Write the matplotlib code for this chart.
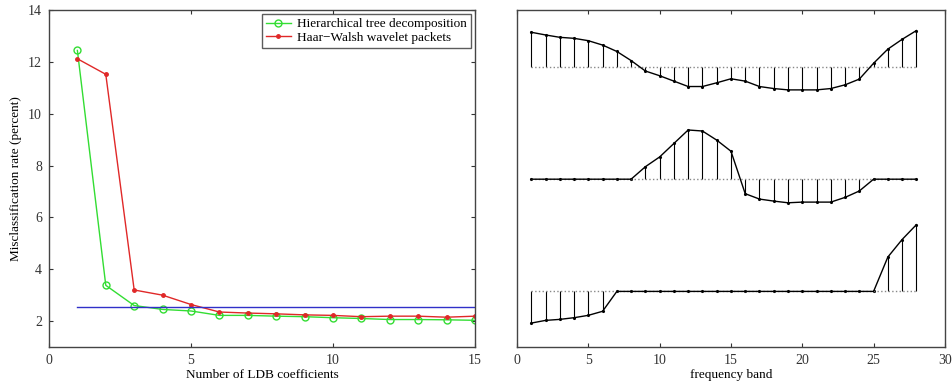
import matplotlib
matplotlib.use("Agg")
import matplotlib.pyplot as plt
import numpy as np

plt.rcParams['font.family'] = ['Liberation Serif', 'DejaVu Serif']

# Misclassification rate vs. number of LDB coefficients
n_coeffs = np.arange(1, 16)
tree_rate = [12.44, 3.38, 2.60, 2.45, 2.39, 2.22, 2.22, 2.19, 2.17, 2.13,
             2.10, 2.06, 2.06, 2.05, 2.03]
haar_rate = [12.12, 11.52, 3.20, 3.00, 2.64, 2.35, 2.31, 2.28, 2.24, 2.22,
             2.17, 2.19, 2.19, 2.15, 2.19]
reference_rate = 2.55

# Discriminant weights per frequency band (three vectors, stacked)
bands = np.arange(1, 29)
vec_top = [1.02, 0.94, 0.87, 0.84, 0.77, 0.64, 0.45, 0.18, -0.13, -0.27,
           -0.43, -0.59, -0.59, -0.48, -0.36, -0.43, -0.59, -0.65, -0.69, -0.69,
           -0.69, -0.65, -0.54, -0.37, 0.10, 0.52, 0.81, 1.07]
vec_mid = [0, 0, 0, 0, 0, 0, 0, 0, 0.37, 0.66,
           1.06, 1.46, 1.43, 1.16, 0.83, -0.43, -0.59, -0.65, -0.70, -0.68,
           -0.68, -0.68, -0.54, -0.35, 0, 0, 0, 0]
vec_bot = [-0.94, -0.86, -0.83, -0.78, -0.71, -0.59, 0, 0, 0, 0,
           0, 0, 0, 0, 0, 0, 0, 0, 0, 0,
           0, 0, 0, 0, 0, 1.02, 1.54, 1.98]
offsets = [8.32, 4.98, 1.65]

fig = plt.figure(figsize=(9.53, 3.81), dpi=100)

# ---- left panel ----
ax1 = fig.add_axes([0.0514, 0.0892, 0.447, 0.8845])
ax1.plot(n_coeffs, tree_rate, '-o', color='#33dd33', lw=1.0, ms=5,
         mfc='none', mew=1.0, label='Hierarchical tree decomposition')
ax1.plot(n_coeffs, haar_rate, '-', color='#e02828', lw=1.0, marker='.',
         ms=5, label='Haar\u2212Walsh wavelet packets')
ax1.plot([n_coeffs[0], n_coeffs[-1]], [reference_rate, reference_rate],
         '-', color='#3030c8', lw=1.0)
ax1.set_xlim(0, 15)
ax1.set_ylim(1, 14)
ax1.set_xticks([0, 5, 10, 15])
ax1.set_yticks([2, 4, 6, 8, 10, 12, 14])
ax1.set_xlabel('Number of LDB coefficients', fontsize=9.5, labelpad=1.5)
ax1.set_ylabel('Misclassification rate (percent)', fontsize=9.5, labelpad=4)
leg = ax1.legend(loc='upper right', fontsize=9.5, frameon=True, fancybox=False,
                 borderpad=0.3, labelspacing=0.1, handlelength=1.9,
                 handletextpad=0.5, borderaxespad=0.3)
leg.get_frame().set_edgecolor('#333333')
leg.get_frame().set_linewidth(1.0)

# ---- right panel ----
ax2 = fig.add_axes([0.5425, 0.0892, 0.449, 0.8845])
for vec, base in zip([vec_top, vec_mid, vec_bot], offsets):
    vals = base + np.asarray(vec)
    ml, sl, bl = ax2.stem(bands, vals, bottom=base, linefmt='k-',
                          markerfmt='k.', basefmt='k:')
    plt.setp(sl, linewidth=0.8)
    plt.setp(ml, markersize=2.5)
    plt.setp(bl, linewidth=1.0, color='#888888')
    ax2.plot(bands, vals, 'k-', lw=1.0)
ax2.set_xlim(0, 30)
ax2.set_ylim(0, 10)
ax2.set_xticks([0, 5, 10, 15, 20, 25, 30])
ax2.set_yticks([])
ax2.set_xlabel('frequency band', fontsize=9.5, labelpad=1.5)

for ax in (ax1, ax2):
    ax.tick_params(direction='in', top=True, right=True, labelsize=10,
                   length=3, width=0.8, colors='#333333', pad=5)
    for sp in ax.spines.values():
        sp.set_color('#444444')
        sp.set_linewidth(1.0)

fig.savefig('out.png', dpi=100)
